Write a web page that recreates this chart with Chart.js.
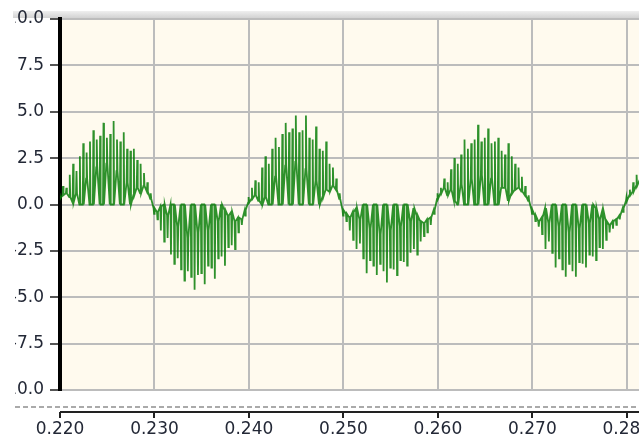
<!DOCTYPE html>
<html>
<head>
<meta charset="utf-8">
<script src="https://cdn.jsdelivr.net/npm/chart.js@4/dist/chart.umd.min.js"></script>
<style>
  html, body { margin: 0; padding: 0; background: #fff; overflow: hidden; }
  body { width: 639px; height: 438px; position: relative; }
  #strip { position: absolute; left: 13px; top: 11px; width: 626px; height: 7px;
           background: linear-gradient(#efefef, #d2d2d2); }
  #wrap { position: absolute; left: 15px; top: 0; width: 700px; height: 438px; }
</style>
</head>
<body>
<div id="strip"></div>
<div id="wrap"><canvas id="scope" width="700" height="438"></canvas></div>
<script>
var xTickValues = [0.22, 0.23, 0.24, 0.25, 0.26, 0.27, 0.28];
var xTickLabels = ['0.220', '0.230', '0.240', '0.250', '0.260', '0.270', '0.280'];
var yTickValues = [10, 7.5, 5, 2.5, 0, -2.5, -5, -7.5, -10];
var yTickLabels = ['10.0', '7.5', '5.0', '2.5', '0.0', '-2.5', '-5.0', '-7.5', '-10.0'];

// sampled trace: 28 switching spikes per half cycle, each spike goes floor -> top -> floor
var signalStart = 0.2198;
var spikeStep = 0.01 / 28;

var tops1 = [0.6, 1.0, 0.9, 1.6, 2.2, 1.8, 2.6, 3.3, 2.8, 3.4, 4.0, 3.5, 3.7, 4.4, 3.6, 3.8, 4.5, 3.5, 3.4, 3.9, 3.0, 2.9, 3.0, 2.4, 2.2, 1.7, 1.2, 0.6];
var floors1 = [0.3, 0.5, 0.6, 0.4, 0.1, 0.6, 0.0, 0.0, 1.4, 0.0, 0.0, 2.0, 0.0, 0.0, 2.2, 0.0, 0.0, 1.8, 0.0, 0.0, 1.2, 0.0, 0.5, 0.9, 0.6, 1.0, 0.7, 0.3];
var tops2 = [-0.5, -0.8, -1.4, -2.0, -1.8, -2.7, -3.2, -2.9, -3.5, -4.1, -3.6, -3.9, -4.6, -3.8, -3.7, -4.3, -3.3, -3.4, -4.0, -2.9, -2.8, -3.3, -2.3, -2.2, -2.4, -1.5, -1.1, -0.6];
var floors2 = [-0.2, -0.4, -0.1, 0.0, -0.6, 0.0, 0.0, -1.2, 0.0, 0.0, -1.8, 0.0, 0.0, -1.5, 0.0, 0.0, -1.4, 0.0, 0.0, -0.9, 0.0, -0.3, -0.6, -0.4, -0.9, -0.7, -0.8, -0.3];
var tops3 = [0.4, 0.9, 1.3, 1.2, 2.0, 2.6, 2.2, 3.0, 3.6, 3.1, 3.8, 4.4, 3.9, 4.1, 4.8, 3.9, 4.0, 4.8, 3.6, 3.5, 4.2, 3.0, 2.9, 3.4, 2.2, 2.0, 1.4, 0.6];
var floors3 = [0.1, 0.3, 0.5, 0.2, 0.0, 0.4, 0.0, 0.0, 1.5, 0.0, 0.0, 2.1, 0.0, 0.0, 2.3, 0.0, 0.0, 1.9, 0.0, 0.0, 1.3, 0.0, 0.4, 0.8, 0.7, 1.0, 0.8, 0.3];
var tops4 = [-0.6, -0.9, -1.4, -1.9, -2.4, -2.1, -2.9, -3.7, -3.0, -3.3, -3.8, -3.2, -3.6, -4.2, -3.4, -3.5, -3.8, -3.0, -3.1, -3.3, -2.6, -2.4, -2.7, -2.0, -1.7, -1.5, -1.1, -0.5];
var floors4 = [-0.3, -0.5, -0.7, -0.4, -0.2, -0.8, 0.0, 0.0, -1.3, 0.0, 0.0, -1.6, 0.0, 0.0, -1.4, 0.0, 0.0, -1.2, 0.0, 0.0, -0.9, -0.2, -0.6, -0.9, -1.0, -0.8, -0.7, -0.3];
var tops5 = [0.6, 0.9, 1.4, 1.2, 1.9, 2.5, 2.2, 2.7, 3.5, 3.0, 3.3, 3.5, 4.3, 3.4, 3.6, 4.1, 3.3, 3.4, 3.6, 2.9, 2.7, 3.3, 2.6, 2.2, 2.0, 1.5, 1.0, 0.5];
var floors5 = [0.3, 0.6, 0.9, 0.5, 0.8, 0.2, 0.0, 1.1, 0.0, 0.0, 1.4, 0.0, 0.0, 1.6, 0.0, 0.0, 1.4, 0.0, 0.0, 0.9, 0.9, 0.2, 0.6, 0.8, 0.9, 0.7, 0.5, 0.2];
var tops6 = [-0.5, -0.9, -1.2, -1.6, -2.4, -2.0, -2.6, -3.4, -2.9, -3.5, -3.9, -3.2, -3.6, -3.9, -3.1, -3.2, -3.4, -2.7, -2.8, -3.0, -2.3, -2.4, -1.9, -1.5, -1.3, -1.1, -0.8, -0.4];
var floors6 = [-0.3, -0.6, -0.9, -0.7, -0.2, -1.0, 0.0, 0.0, -1.2, 0.0, 0.0, -1.5, 0.0, 0.0, -1.3, 0.0, 0.0, -1.0, 0.0, -0.2, -0.8, -0.3, -0.9, -1.1, -0.9, -0.8, -0.6, -0.2];
var tops7 = [0.4, 0.8, 1.2, 1.6, 2.0];
var floors7 = [0.2, 0.5, 0.7, 1.0, 1.3];

var spikeTops = [].concat(tops1, tops2, tops3, tops4, tops5, tops6, tops7);
var spikeFloors = [].concat(floors1, floors2, floors3, floors4, floors5, floors6, floors7);

var trace = [];
spikeTops.forEach(function (top, i) {
    var t = signalStart + (i + 0.3) * spikeStep;
    trace.push({ x: t, y: spikeFloors[i] });
    trace.push({ x: t + 0.15 * spikeStep, y: top });
    trace.push({ x: t + 0.3 * spikeStep, y: spikeFloors[i] });
});

var labelFont = { family: 'DejaVu Sans', size: 17 };
var labelColor = '#232836';

// cream plot background + separate x axis line below the plot
var scopeFrame = {
    id: 'scopeFrame',
    beforeDraw: function (chart) {
        var ctx = chart.ctx, a = chart.chartArea;
        ctx.save();
        ctx.fillStyle = '#fffaee';
        ctx.fillRect(a.left, a.top, a.right - a.left, a.bottom - a.top);
        ctx.restore();
    },
    afterDraw: function (chart) {
        var ctx = chart.ctx, a = chart.chartArea, xs = chart.scales.x;
        ctx.save();
        ctx.strokeStyle = '#8e8e8e';
        ctx.lineWidth = 1.5;
        ctx.setLineDash([5, 3]);
        ctx.beginPath();
        ctx.moveTo(0, a.bottom + 17);
        ctx.lineTo(chart.width, a.bottom + 17);
        ctx.stroke();
        ctx.setLineDash([]);
        ctx.strokeStyle = '#222';
        ctx.lineWidth = 2;
        ctx.beginPath();
        ctx.moveTo(a.left, a.bottom + 22);
        ctx.lineTo(chart.width, a.bottom + 22);
        xTickValues.forEach(function (v) {
            var px = Math.round(xs.getPixelForValue(v));
            ctx.moveTo(px, a.bottom + 22);
            ctx.lineTo(px, a.bottom + 28);
        });
        ctx.stroke();
        ctx.restore();
    }
};

new Chart(document.getElementById('scope').getContext('2d'), {
    type: 'line',
    data: {
        datasets: [{
            data: trace,
            borderColor: 'rgba(0,122,0,0.82)',
            borderWidth: 1.8,
            pointRadius: 0,
            tension: 0
        }]
    },
    options: {
        responsive: false,
        animation: false,
        layout: { padding: { top: 19, left: 0, right: 0, bottom: 0 } },
        plugins: { legend: { display: false }, tooltip: { enabled: false } },
        scales: {
            x: {
                type: 'linear',
                min: 0.22,
                max: 0.28933,
                afterFit: function (scale) { scale.height = 48; },
                afterBuildTicks: function (scale) {
                    scale.ticks = xTickValues.map(function (v) { return { value: v }; });
                },
                grid: { color: '#bcbcbc', lineWidth: 2, drawTicks: true, tickLength: 29, tickColor: 'rgba(0,0,0,0)' },
                border: { display: false },
                ticks: {
                    padding: 0,
                    maxRotation: 0,
                    autoSkip: false,
                    font: labelFont,
                    color: labelColor,
                    callback: function (v, i) { return xTickLabels[i]; }
                }
            },
            y: {
                min: -10,
                max: 10,
                afterFit: function (scale) { scale.width = 45; },
                afterBuildTicks: function (scale) {
                    scale.ticks = yTickValues.map(function (v) { return { value: v }; });
                },
                grid: { color: '#bcbcbc', lineWidth: 2, tickLength: 10, tickColor: '#555', tickWidth: 2 },
                border: { display: true, color: '#000', width: 4 },
                ticks: {
                    padding: 6,
                    autoSkip: false,
                    font: labelFont,
                    color: labelColor,
                    callback: function (v, i) { return yTickLabels[i]; }
                }
            }
        }
    },
    plugins: [scopeFrame]
});
</script>
</body>
</html>
